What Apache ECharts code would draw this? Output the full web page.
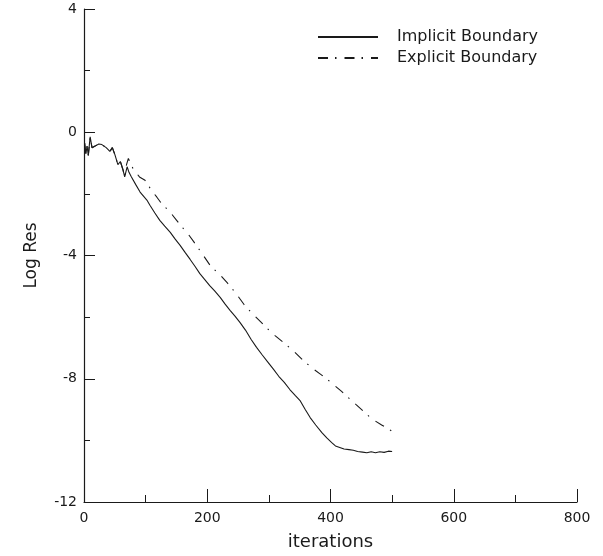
<!DOCTYPE html>
<html>
<head>
<meta charset="utf-8">
<script src="https://cdn.jsdelivr.net/npm/echarts@6/dist/echarts.min.js"></script>
<style>
  html, body { margin: 0; padding: 0; background: #fff; }
  #chart { width: 603px; height: 556px; }
</style>
</head>
<body>
<div id="chart"></div>
<script>
// iterations / log residual
const implicitIter = [1, 3, 5, 7, 10, 13, 18, 24, 29, 36, 42, 46, 50, 55, 59, 63, 66, 70, 73, 77, 84, 91, 102, 107, 115, 123, 131, 140, 148, 156, 164, 172, 180, 188, 196, 204, 212, 221, 229, 237, 245, 253, 262, 271, 280, 289, 298, 307, 316, 325, 334, 343, 351, 359, 367, 376, 386, 394, 402, 408, 415, 422, 430, 437, 444, 452, 459, 466, 473, 480, 487, 494, 500];
const implicitRes = [-0.35, -0.7, -0.45, -0.75, -0.15, -0.5, -0.45, -0.38, -0.4, -0.5, -0.62, -0.5, -0.72, -1.05, -0.95, -1.2, -1.45, -1.12, -1.3, -1.45, -1.7, -1.94, -2.2, -2.37, -2.62, -2.86, -3.05, -3.25, -3.47, -3.67, -3.9, -4.12, -4.35, -4.59, -4.78, -4.98, -5.15, -5.36, -5.58, -5.78, -5.97, -6.17, -6.42, -6.72, -6.98, -7.22, -7.45, -7.68, -7.92, -8.12, -8.35, -8.55, -8.72, -9.0, -9.26, -9.5, -9.75, -9.92, -10.07, -10.18, -10.23, -10.28, -10.3, -10.32, -10.36, -10.38, -10.4, -10.37, -10.4, -10.37, -10.39, -10.35, -10.36];

const explicitIter = [1, 3, 5, 7, 10, 13, 18, 24, 29, 36, 42, 46, 50, 55, 59, 63, 66, 69, 72, 80, 90, 99, 110, 118, 126, 138, 150, 161, 170, 178, 192, 206, 219, 233, 247, 260, 273, 286, 298, 310, 326, 340, 356, 370, 383, 399, 418, 442, 467, 483, 499];
const explicitRes = [-0.35, -0.7, -0.45, -0.75, -0.15, -0.5, -0.45, -0.38, -0.4, -0.5, -0.62, -0.5, -0.72, -1.05, -0.95, -1.2, -1.45, -1.05, -0.85, -1.2, -1.45, -1.56, -1.9, -2.1, -2.32, -2.55, -2.85, -3.12, -3.33, -3.55, -3.95, -4.36, -4.59, -4.9, -5.24, -5.6, -5.88, -6.14, -6.38, -6.6, -6.86, -7.1, -7.41, -7.65, -7.84, -8.09, -8.41, -8.85, -9.3, -9.5, -9.69];

const seriesNames = ['Implicit Boundary', 'Explicit Boundary'];
const xTicks = [0, 200, 400, 600, 800];
const yTicks = [-12, -8, -4, 0, 4];

const pairs = (xs, ys) => xs.map((x, i) => [x, ys[i]]);
const font = 'DejaVu Sans';
const ink = '#1a1a1a';

const chart = echarts.init(document.getElementById('chart'));
chart.setOption({
    animation: false,
    backgroundColor: '#fff',
    color: [ink, ink],
    grid: {left: 84, top: 9, right: 26, bottom: 53},
    legend: {
        orient: 'vertical',
        left: 312,
        top: 24,
        itemWidth: 60,
        itemHeight: 10,
        itemGap: 5,
        itemStyle: {opacity: 0},
        textStyle: {fontFamily: font, fontSize: 16, color: ink, padding: [0, 0, 0, 14]},
        data: seriesNames
    },
    xAxis: {
        type: 'value',
        min: xTicks[0],
        max: xTicks[xTicks.length - 1],
        interval: 200,
        name: 'iterations',
        nameLocation: 'middle',
        nameGap: 31,
        nameTextStyle: {fontFamily: font, fontSize: 18, color: ink},
        axisLine: {onZero: false, lineStyle: {color: ink, width: 1.2}},
        axisTick: {inside: true, length: 13, lineStyle: {color: ink}},
        minorTick: {show: true, splitNumber: 2, length: 7, lineStyle: {color: ink}},
        splitLine: {show: false},
        axisLabel: {fontFamily: font, fontSize: 14, color: ink, margin: 9}
    },
    yAxis: {
        type: 'value',
        min: yTicks[0],
        max: yTicks[yTicks.length - 1],
        interval: 4,
        name: 'Log Res',
        nameLocation: 'middle',
        nameGap: 44,
        nameTextStyle: {fontFamily: font, fontSize: 17, color: ink},
        axisLine: {show: true, onZero: false, lineStyle: {color: ink, width: 1.2}},
        axisTick: {show: true, inside: true, length: 11, lineStyle: {color: ink}},
        minorTick: {show: true, splitNumber: 2, length: 6, lineStyle: {color: ink}},
        splitLine: {show: false},
        axisLabel: {fontFamily: font, fontSize: 14, color: ink, margin: 7}
    },
    series: [
        {
            name: seriesNames[0],
            type: 'line',
            symbol: 'none',
            data: pairs(implicitIter, implicitRes),
            lineStyle: {color: ink, width: 1.1}
        },
        {
            name: seriesNames[1],
            type: 'line',
            symbol: 'none',
            data: pairs(explicitIter, explicitRes),
            lineStyle: {color: ink, width: 1.1, type: [10, 7, 1.5, 8]}
        }
    ]
});
</script>
</body>
</html>
